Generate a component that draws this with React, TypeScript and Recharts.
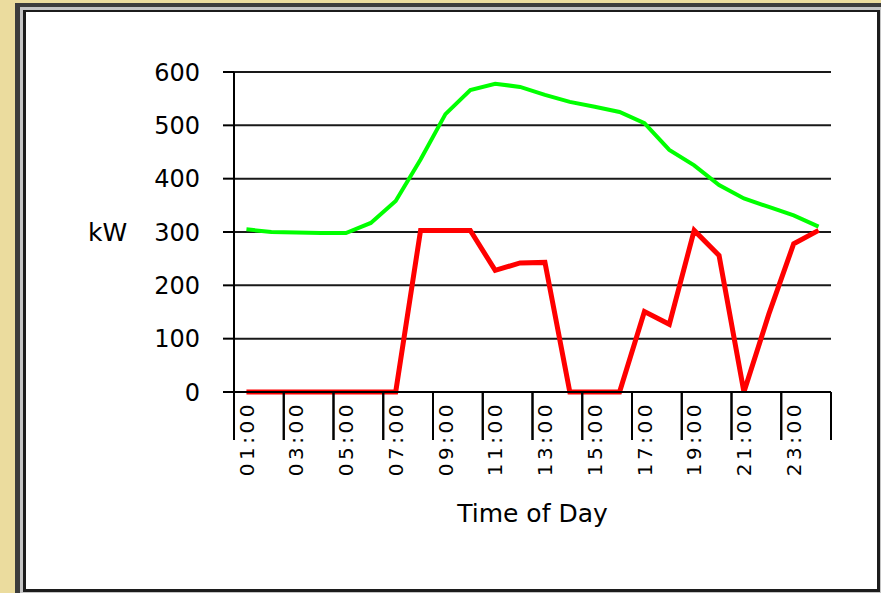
import React from "react";
import { LineChart, Line, XAxis, YAxis, CartesianGrid } from "recharts";

const times = [
  "01:00", "02:00", "03:00", "04:00", "05:00", "06:00", "07:00", "08:00",
  "09:00", "10:00", "11:00", "12:00", "13:00", "14:00", "15:00", "16:00",
  "17:00", "18:00", "19:00", "20:00", "21:00", "22:00", "23:00", "24:00",
];
const greenSeries = [
  305, 300, 299, 298, 298, 317, 358, 436, 521, 566, 578, 572,
  557, 544, 535, 525, 504, 454, 425, 388, 363, 347, 331, 310,
];
const redSeries = [
  0, 0, 0, 0, 0, 0, 0, 303, 303, 303, 228, 242,
  243, 0, 0, 0, 151, 127, 303, 256, 0, 146, 278, 303,
];
const yTicks = [0, 100, 200, 300, 400, 500, 600];

const data = times.map((t, i) => ({ time: t, green: greenSeries[i], red: redSeries[i] }));

const W = 881;
const H = 593;
const M = { top: 72, right: 50, left: 84, bottom: 66 };
const Y_AXIS_W = 150;
const X_AXIS_H = 135;
const PLOT_W = W - M.left - Y_AXIS_W - M.right;
const BAND = PLOT_W / times.length;
const FONT = "'DejaVu Sans', Arial, sans-serif";

const XTick = (props: any) => {
  const { x, y, payload } = props;
  const lx1 = x - BAND / 2;
  const lx2 = x + BAND * 1.5;
  const ty = y + 9;
  return (
    <g>
      <line x1={lx1} x2={lx1} y1={y} y2={y + 48} stroke="#000" strokeWidth={2} />
      <line x1={lx2} x2={lx2} y1={y} y2={y + 48} stroke="#000" strokeWidth={2} />
      <text
        x={x}
        y={ty}
        transform={`rotate(-90 ${x} ${ty})`}
        textAnchor="end"
        dy="0.36em"
        fontSize={20}
        letterSpacing={3.5}
        fontFamily={FONT}
        fill="#000"
      >
        {payload.value}
      </text>
    </g>
  );
};

export default function App() {
  return (
    <div
      style={{
        position: "fixed",
        left: 0,
        top: 0,
        width: W,
        height: H,
        overflow: "hidden",
        background: "#EBDC9E",
      }}
    >
      <div
        style={{
          position: "absolute",
          left: 15,
          top: 3,
          width: 880,
          height: 600,
          boxSizing: "border-box",
          border: "4px solid #3c3c3c",
          borderLeftWidth: 5,
        }}
      />
      <div
        style={{
          position: "absolute",
          left: 20,
          top: 7,
          width: 863,
          height: 588,
          boxSizing: "border-box",
          border: "3px solid #c4c4c4",
        }}
      />
      <div
        style={{
          position: "absolute",
          left: 23,
          top: 10,
          width: 857,
          height: 582,
          boxSizing: "border-box",
          border: "3px solid #1c1c1c",
          borderTopWidth: 2,
          background: "#fff",
        }}
      />
      <div style={{ position: "absolute", left: 0, top: 0 }}>
        <LineChart width={W} height={H} data={data} margin={M}>
          <CartesianGrid vertical={false} stroke="#000" strokeWidth={2} strokeOpacity={0.9} />
          <XAxis
            dataKey="time"
            interval={1}
            height={X_AXIS_H}
            padding={{ left: BAND / 2, right: BAND / 2 }}
            tickLine={false}
            tickSize={0}
            tickMargin={0}
            axisLine={{ stroke: "#000", strokeWidth: 2 }}
            tick={<XTick />}
            label={{
              value: "Time of Day",
              position: "insideBottom",
              offset: 5,
              fontSize: 25,
              fontFamily: FONT,
              fill: "#000",
            }}
          />
          <YAxis
            width={Y_AXIS_W}
            domain={[0, 600]}
            ticks={yTicks}
            interval={0}
            tickSize={11}
            tickMargin={23}
            axisLine={{ stroke: "#000", strokeWidth: 2 }}
            tickLine={{ stroke: "#000", strokeWidth: 2 }}
            tick={{ fontSize: 24, fontFamily: FONT, fill: "#000" }}
            label={{
              value: "kW",
              position: "insideLeft",
              offset: 4,
              fontSize: 25,
              fontFamily: FONT,
              fill: "#000",
            }}
          />
          <YAxis
            yAxisId="r"
            orientation="right"
            width={0}
            domain={[0, 600]}
            tick={false}
            tickLine={false}
            axisLine={{ stroke: "#000", strokeWidth: 2 }}
          />
          <Line
            type="linear"
            dataKey="green"
            stroke="#00FF00"
            strokeWidth={4}
            dot={false}
            activeDot={false}
            isAnimationActive={false}
          />
          <Line
            type="linear"
            dataKey="red"
            stroke="#FF0000"
            strokeWidth={5}
            dot={false}
            activeDot={false}
            isAnimationActive={false}
          />
        </LineChart>
      </div>
    </div>
  );
}
